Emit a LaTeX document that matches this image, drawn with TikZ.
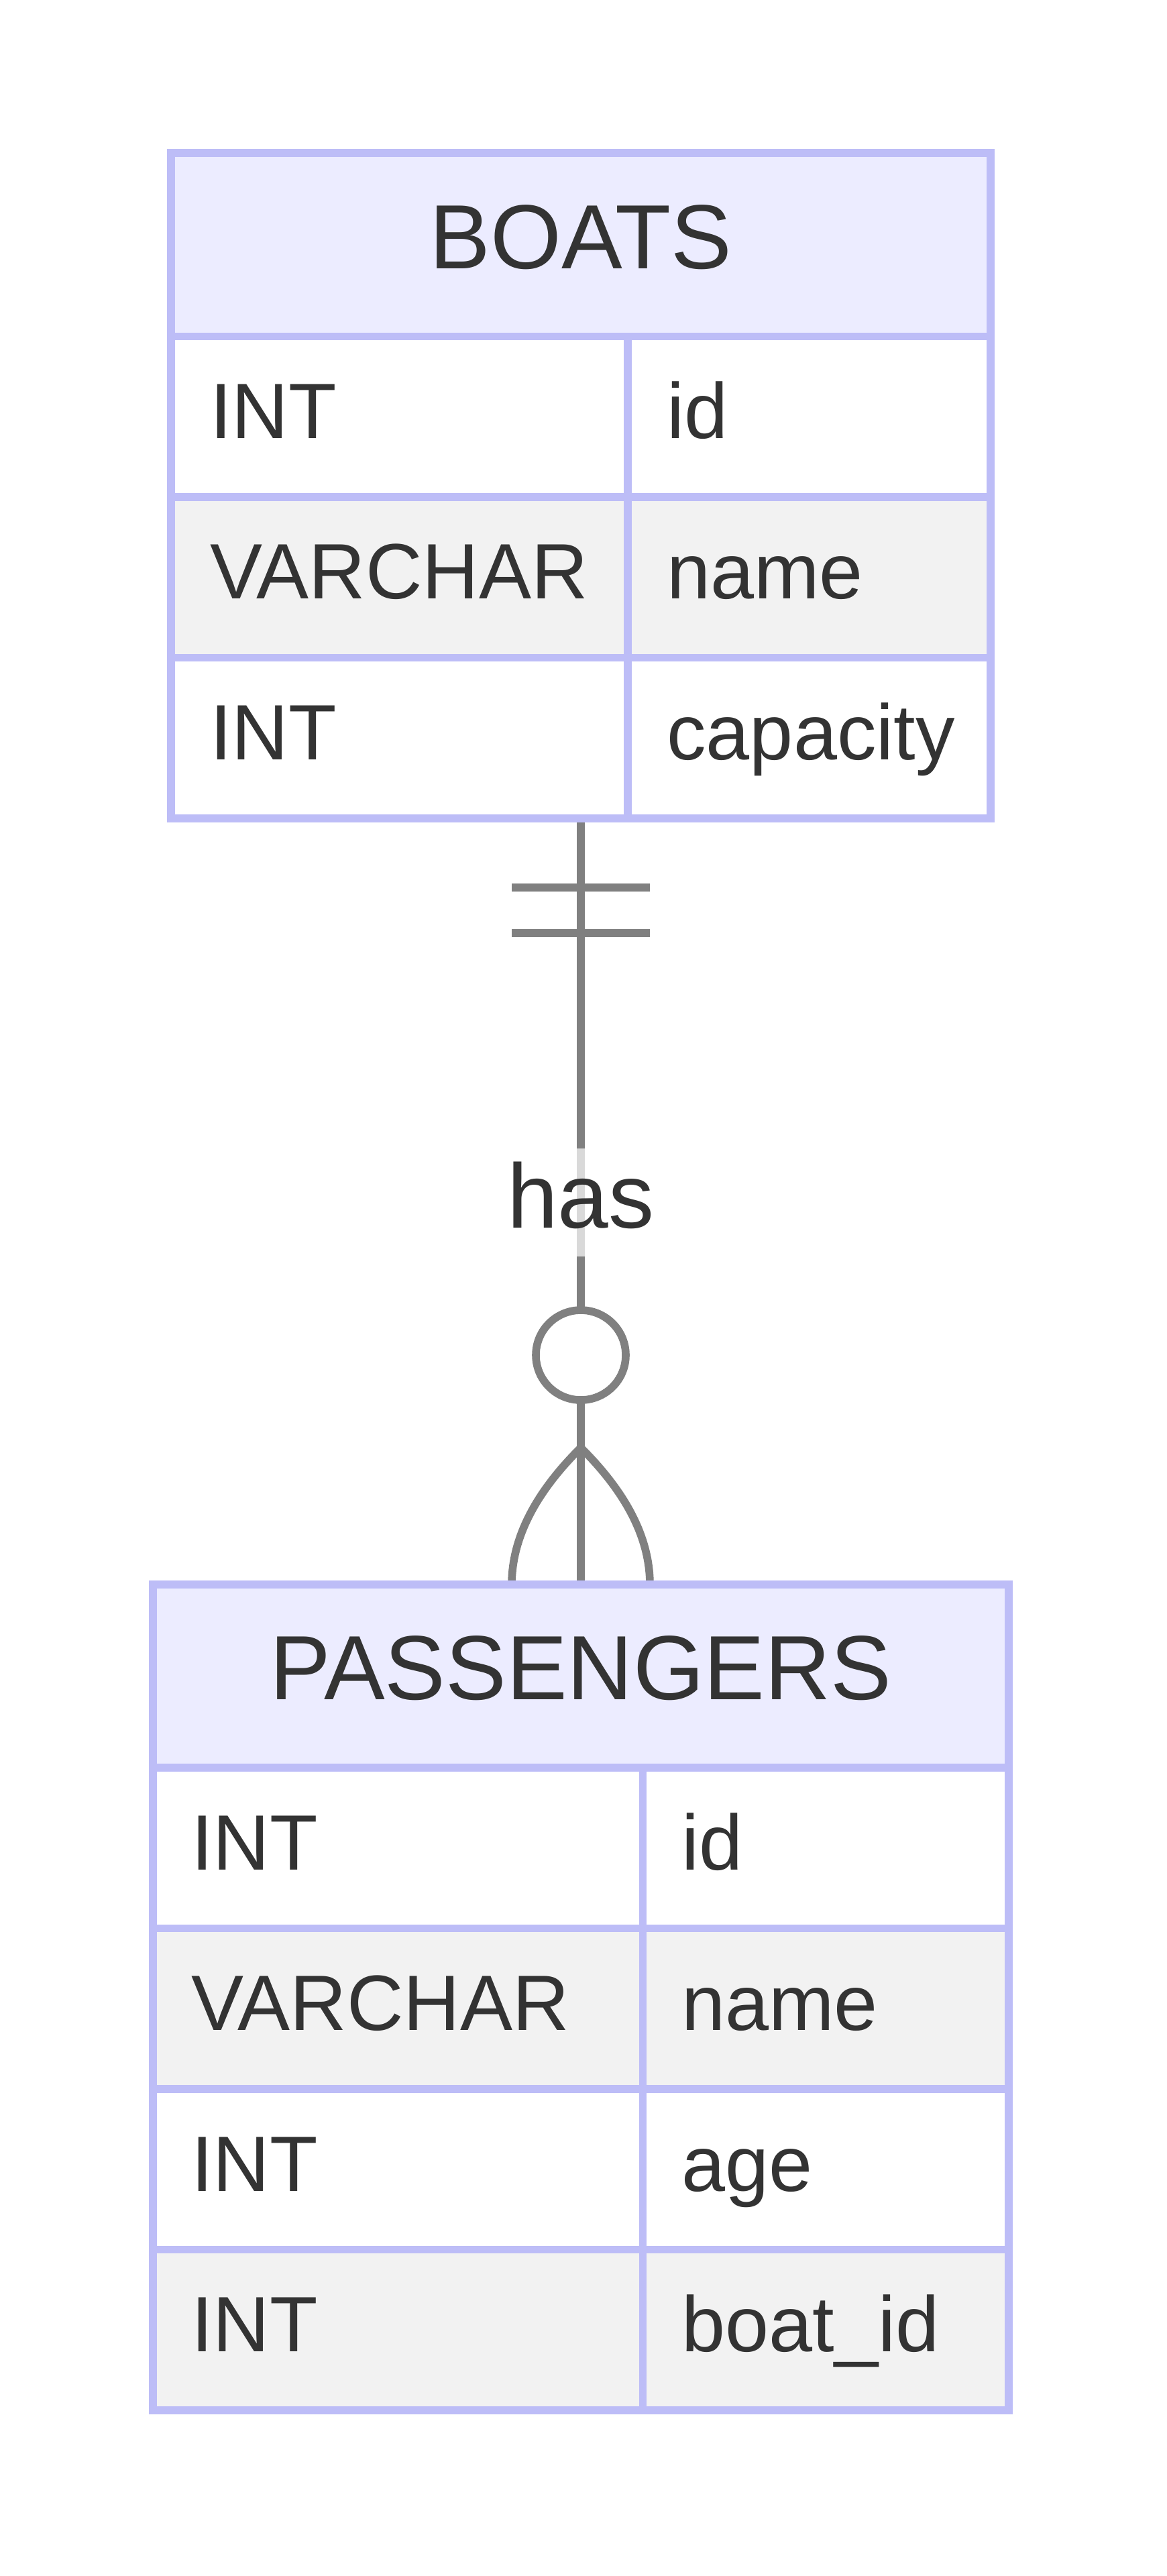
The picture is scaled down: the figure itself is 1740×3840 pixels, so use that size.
\documentclass[tikz,border=0pt]{standalone}
\usepackage{fontspec}
\setmainfont{Liberation Sans}
\definecolor{bord}{HTML}{BDBDF7}
\definecolor{hdrfill}{HTML}{ECECFF}
\definecolor{rowgray}{HTML}{F2F2F2}
\definecolor{txt}{HTML}{333333}
\definecolor{relgray}{HTML}{808080}
\begin{document}
\begin{tikzpicture}[x=0.5pt,y=-0.5pt,
  ebox/.style={draw=bord, line width=5.75pt},
  hdr/.style={ebox, fill=hdrfill},
  oddrow/.style={ebox, fill=white},
  evenrow/.style={ebox, fill=rowgray},
  rowtxt/.style={anchor=base west, inner sep=0pt, text=txt, font=\fontsize{58.5}{60}\selectfont},
  titletxt/.style={anchor=base, inner sep=0pt, text=txt, font=\fontsize{68}{70}\selectfont},
  rel/.style={draw=relgray, line width=5.8pt}]
\path[fill=white] (0,0) rectangle (1740,3840);
\useasboundingbox (0,0) rectangle (1740,3840);

% coordinates of the relationship
\coordinate (bb) at (866,1220);
\coordinate (pt) at (866,2362);
\coordinate (b1l) at (763,1323); \coordinate (b1r) at (969,1323);
\coordinate (b2l) at (763,1391); \coordinate (b2r) at (969,1391);
\coordinate (apex) at (866,2158);
\coordinate (fl) at (763,2362);
\coordinate (fr) at (969,2362);

% relationship line
\draw[rel] (bb) -- (pt);
\draw[rel] (b1l) -- (b1r);
\draw[rel] (b2l) -- (b2r);
\draw[rel] (apex) .. controls (797.3,2226) and (763,2294) .. (fl);
\draw[rel] (apex) .. controls (934.7,2226) and (969,2294) .. (fr);
\node[rel, circle, fill=white, minimum size=67pt, inner sep=0pt] (zero) at (866,2020) {};

% label
\path[fill=white, fill opacity=0.7] (758,1712) rectangle (974,1873);
\node[titletxt] (has) at (866,1830) {has};

% BOATS
\path[hdr] (255,228) rectangle (1477,501.5);
\path[oddrow] (255,501.5) rectangle (936,741);
\path[oddrow] (936,501.5) rectangle (1477,741);
\path[evenrow] (255,741) rectangle (936,980.5);
\path[evenrow] (936,741) rectangle (1477,980.5);
\path[oddrow] (255,980.5) rectangle (936,1220);
\path[oddrow] (936,980.5) rectangle (1477,1220);
\node[titletxt] (boats) at (866,400) {BOATS};
\node[rowtxt] (bt1) at (313,653) {INT};
\node[rowtxt] (bn1) at (994,653) {id};
\node[rowtxt] (bt2) at (313,892.5) {VARCHAR};
\node[rowtxt] (bn2) at (994,892.5) {name};
\node[rowtxt] (bt3) at (313,1132) {INT};
\node[rowtxt] (bn3) at (994,1132) {capacity};

% PASSENGERS
\path[hdr] (228,2362) rectangle (1504,2635);
\path[oddrow] (228,2635) rectangle (958.5,2874.5);
\path[oddrow] (958.5,2635) rectangle (1504,2874.5);
\path[evenrow] (228,2874.5) rectangle (958.5,3114);
\path[evenrow] (958.5,2874.5) rectangle (1504,3114);
\path[oddrow] (228,3114) rectangle (958.5,3353.5);
\path[oddrow] (958.5,3114) rectangle (1504,3353.5);
\path[evenrow] (228,3353.5) rectangle (958.5,3593);
\path[evenrow] (958.5,3353.5) rectangle (1504,3593);
\node[titletxt] (pass) at (866,2533) {PASSENGERS};
\node[rowtxt] (pt1) at (285,2787) {INT};
\node[rowtxt] (pn1) at (1016,2787) {id};
\node[rowtxt] (pt2) at (285,3026.5) {VARCHAR};
\node[rowtxt] (pn2) at (1016,3026.5) {name};
\node[rowtxt] (pt3) at (285,3266) {INT};
\node[rowtxt] (pn3) at (1016,3266) {age};
\node[rowtxt] (pt4) at (285,3505.5) {INT};
\node[rowtxt] (pn4) at (1016,3505.5) {boat\_id};
\end{tikzpicture}
\end{document}
